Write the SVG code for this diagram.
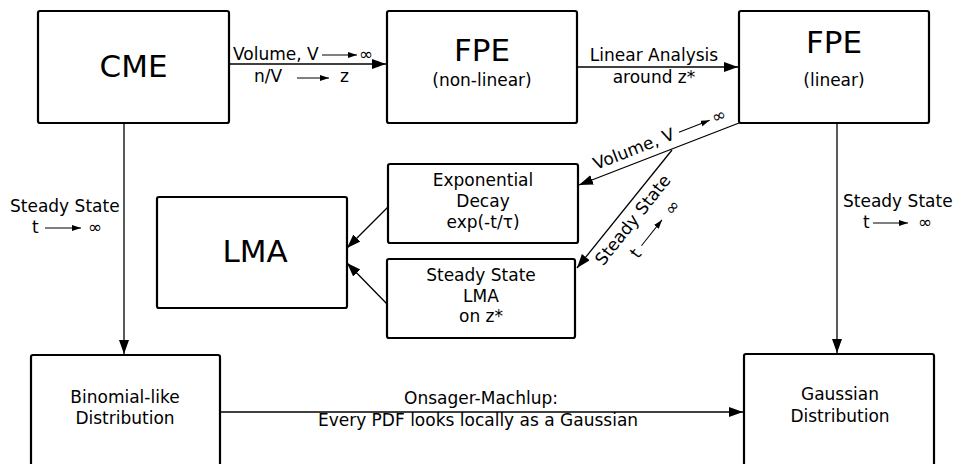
<svg xmlns="http://www.w3.org/2000/svg" width="956" height="464" viewBox="0 0 956 464">
<style>
.box{fill:#fff;stroke:#000;stroke-width:2.2;stroke-linejoin:round}
.big{font-family:"DejaVu Sans",sans-serif;font-size:31px;fill:#000;text-anchor:middle}
.t{font-family:"DejaVu Sans",sans-serif;font-size:17px;fill:#000}
.m{text-anchor:middle}
.e{fill:none;stroke:#000;stroke-width:1.3}
.s{fill:none;stroke:#000;stroke-width:1}
</style>
<defs>
<marker id="ah" markerUnits="userSpaceOnUse" markerWidth="15" markerHeight="11" refX="14" refY="5" orient="auto">
<path d="M0,0 L14,5 L0,10 z" fill="#000"/>
</marker>
<marker id="as" markerUnits="userSpaceOnUse" markerWidth="10" markerHeight="7" refX="9" refY="3" orient="auto">
<path d="M0,0 L9,3 L0,6 z" fill="#000"/>
</marker>
</defs>
<rect width="956" height="464" fill="#fff"/>
<g id="connectors">
<line class="e" x1="229" y1="64" x2="386" y2="64" marker-end="url(#ah)"/>
<line class="e" x1="577" y1="67" x2="738" y2="67" marker-end="url(#ah)"/>
<line class="e" x1="739" y1="123" x2="579" y2="185" marker-end="url(#ah)"/>
<line class="e" x1="672" y1="150" x2="577" y2="268" marker-end="url(#ah)"/>
<line class="e" x1="388" y1="207" x2="347" y2="248" marker-end="url(#ah)"/>
<line class="e" x1="388" y1="305" x2="347" y2="263" marker-end="url(#ah)"/>
<line class="e" x1="124" y1="123" x2="124" y2="354" marker-end="url(#ah)"/>
<line class="e" x1="837" y1="123" x2="837" y2="353" marker-end="url(#ah)"/>
<line class="e" x1="220" y1="412" x2="743" y2="412" marker-end="url(#ah)"/>
<g id="labels">
<text class="t" x="233" y="60">Volume, V</text>
<line class="s" x1="322" y1="55" x2="357" y2="55" marker-end="url(#as)"/>
<text class="t" x="359" y="60" font-size="15">∞</text>
<text class="t" x="254" y="82">n/V</text>
<line class="s" x1="297" y1="78" x2="329" y2="78" marker-end="url(#as)"/>
<text class="t" x="340" y="82">z</text>
<text class="t m" x="654" y="61">Linear Analysis</text>
<text class="t m" x="654" y="83">around z*</text>
<g transform="translate(596,170) rotate(-21.3)">
<text class="t" x="0" y="0">Volume, V</text>
<line class="s" x1="91" y1="-5" x2="124" y2="-5" marker-end="url(#as)"/>
<text class="t" x="127" y="0" font-size="15">∞</text>
</g>
<g transform="translate(602,268) rotate(-51.5)">
<text class="t" x="2" y="0">Steady State</text>
<text class="t" x="29" y="23">t</text>
<line class="s" x1="42" y1="17" x2="75" y2="17" marker-end="url(#as)"/>
<text class="t" x="84" y="23" font-size="15">∞</text>
</g>
<text class="t" x="10" y="212">Steady State</text>
<text class="t" x="32" y="233">t</text>
<line class="s" x1="45" y1="228" x2="81" y2="228" marker-end="url(#as)"/>
<text class="t" x="88" y="233" font-size="15">∞</text>
<text class="t" x="843" y="207">Steady State</text>
<text class="t" x="863" y="228">t</text>
<line class="s" x1="873" y1="223" x2="908" y2="223" marker-end="url(#as)"/>
<text class="t" x="918" y="228" font-size="15">∞</text>
<text class="t m" x="481" y="404">Onsager-Machlup:</text>
<text class="t m" x="478" y="426">Every PDF looks locally as a Gaussian</text>
</g>
</g>
<g id="cme">
<rect class="box" x="38" y="11" width="191" height="112" rx="2"/>
<text class="big" x="133.5" y="77">CME</text>
</g>
<g id="fpe-nonlinear">
<rect class="box" x="387" y="11" width="190" height="112" rx="2"/>
<text class="big" x="482" y="61">FPE</text>
<text class="t m" x="482" y="86">(non-linear)</text>
</g>
<g id="fpe-linear">
<rect class="box" x="739" y="11" width="190" height="112" rx="2"/>
<text class="big" x="834" y="53">FPE</text>
<text class="t m" x="834" y="86">(linear)</text>
</g>
<g id="lma">
<rect class="box" x="157" y="197" width="190" height="111" rx="2"/>
<text class="big" x="255" y="262">LMA</text>
</g>
<g id="exp-decay">
<rect class="box" x="388" y="164" width="190" height="79" rx="2"/>
<text class="t m" x="483" y="186">Exponential</text>
<text class="t m" x="483" y="207">Decay</text>
<text class="t m" x="483" y="228">exp(-t/τ)</text>
</g>
<g id="ss-lma">
<rect class="box" x="387" y="259" width="188" height="79" rx="2"/>
<text class="t m" x="481" y="281">Steady State</text>
<text class="t m" x="481" y="302">LMA</text>
<text class="t m" x="481" y="322">on z*</text>
</g>
<g id="binomial">
<rect class="box" x="31" y="355" width="189" height="130" rx="2"/>
<text class="t m" x="125" y="403">Binomial-like</text>
<text class="t m" x="125" y="424">Distribution</text>
</g>
<g id="gaussian">
<rect class="box" x="744" y="354" width="190" height="130" rx="2"/>
<text class="t m" x="840" y="400">Gaussian</text>
<text class="t m" x="840" y="422">Distribution</text>
</g>
</svg>
